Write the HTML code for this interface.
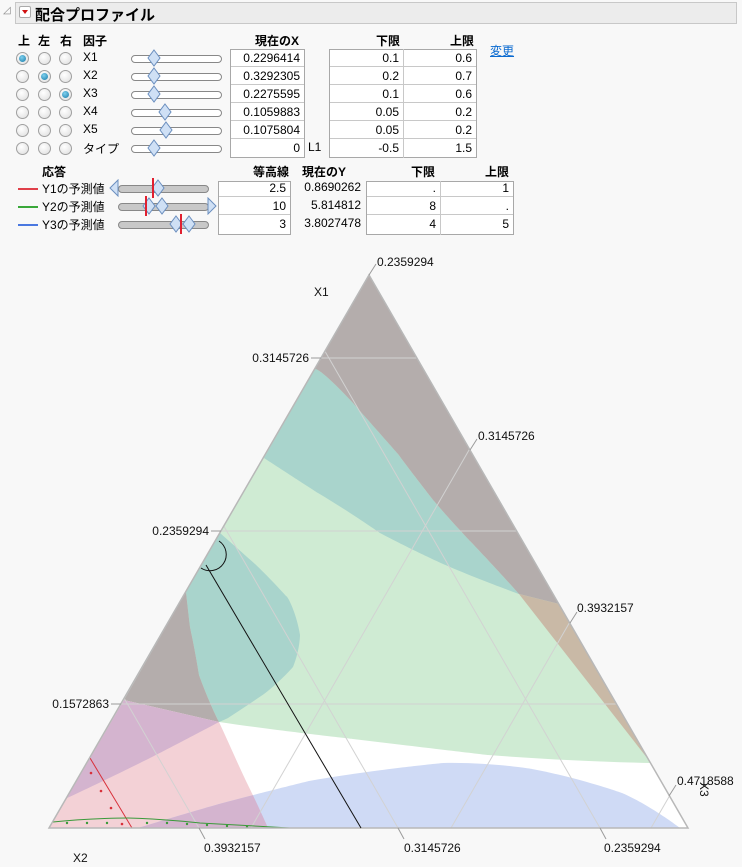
<!DOCTYPE html>
<html><head><meta charset="utf-8">
<style>
body{margin:0;width:742px;height:867px;background:#f8f8f8;font-family:"Liberation Sans","Noto Sans CJK JP",sans-serif;font-size:12px;color:#000;position:relative;overflow:hidden}
.a{position:absolute;white-space:nowrap}
.b{font-weight:bold}
.r{text-align:right}
.box{position:absolute;background:#fff;border:1px solid #a8a8a8;box-sizing:border-box}
.cell{position:absolute;height:18px;line-height:18px;text-align:right;box-sizing:border-box;border-bottom:1px solid #c8c8c8}
.radio{position:absolute;width:11px;height:11px;border-radius:50%;border:1px solid #a0a0a0;background:radial-gradient(circle at 40% 35%,#fff,#ddd)}
.radio.on::after{content:"";position:absolute;left:2px;top:2px;width:7px;height:7px;border-radius:50%;background:radial-gradient(circle at 40% 35%,#7fd0ee,#167aa8)}
.track{position:absolute;height:6px;border:1px solid #888;border-radius:4px;background:#fff}
</style></head><body>
<div class="a" style="left:3px;top:5px;color:#888;font-size:10px">◿</div>
<div style="position:absolute;left:15px;top:2px;width:722px;height:22px;background:#ececec;border:1px solid #c8c8c8;box-sizing:border-box"></div>
<div style="position:absolute;left:19px;top:6px;width:12px;height:12px;background:#fff;border:1px solid #aaa;border-radius:2px;box-sizing:border-box"></div>
<div style="position:absolute;left:22px;top:10px;width:0;height:0;border-left:3px solid transparent;border-right:3px solid transparent;border-top:4px solid #d01010"></div>
<div class="a b" style="left:35px;top:4px;font-size:15px">配合プロファイル</div>

<div class="a b" style="left:18px;top:32px">上</div>
<div class="a b" style="left:38px;top:32px">左</div>
<div class="a b" style="left:60px;top:32px">右</div>
<div class="a b" style="left:83px;top:32px">因子</div>
<div class="a b" style="left:255px;top:32px">現在のX</div>
<div class="a b" style="left:376px;top:32px">下限</div>
<div class="a b" style="left:450px;top:32px">上限</div>
<div class="a" style="left:490px;top:42px;color:#0a6ad0;text-decoration:underline">変更</div>

<div class="box" style="left:230px;top:49px;width:75px;height:109px"></div>
<div class="box" style="left:329px;top:49px;width:148px;height:109px"></div>
<div style="position:absolute;left:403px;top:49px;width:1px;height:109px;background:#c8c8c8"></div>
<div id="rows"></div>

<div class="a b" style="left:42px;top:163px">応答</div>
<div class="a b" style="left:253px;top:163px">等高線</div>
<div class="a b" style="left:302px;top:163px">現在のY</div>
<div class="a b" style="left:411px;top:163px">下限</div>
<div class="a b" style="left:485px;top:163px">上限</div>
<div class="box" style="left:218px;top:181px;width:73px;height:54px"></div>
<div class="box" style="left:366px;top:181px;width:148px;height:54px"></div>
<div style="position:absolute;left:440px;top:181px;width:1px;height:54px;background:#c8c8c8"></div>
<div id="resp"></div>

<svg class="a" style="left:0;top:0" width="742" height="867" viewBox="0 0 742 867">
<defs>
<clipPath id="tri"><polygon points="369,275 49,828 688,828"/></clipPath>
<clipPath id="pk"><path d="M124,700 L49,828 L268,828 C258,805 246,781 246,781 C236,760 228,741 219,722 Z"/></clipPath>
</defs>
<g clip-path="url(#tri)">
<polygon points="369,275 49,828 688,828" fill="#ffffff"/>
<path d="M369,275 L124,700 L219,722 C280,731 353,739 353,739 C420,747 488,755 488,755 C540,759 600,762 651,763 L688,828 L688,275 Z" fill="#cfebd3"/>
<path d="M315,369 L264,458 C290,475 318,493 318,493 C350,512 380,533 380,533 C410,549 443,564 443,564 C480,580 519,594 519,594 C495,567 470,541 470,541 C450,520 434,501 434,501 C415,477 398,454 398,454 C375,428 353,403 353,403 C338,387 320,369 315,369 Z" fill="#a9d4cc"/>
<path d="M369,275 L315,369 C320,369 338,387 353,403 C375,428 398,454 398,454 C415,477 434,501 434,501 C450,520 470,541 470,541 C495,567 519,594 519,594 L559,604 L560,275 Z" fill="#b4adac"/>
<polygon points="519,594 559,604 651,763" fill="#c9b9a6"/>
<path d="M220,533 L186,592 C188,610 190,627 190,627 C195,650 199,675 199,675 C208,700 219,722 219,722 C224,720 228,718 228,718 C245,707 264,694 264,694 C280,682 293,667 293,667 C300,650 300,635 300,635 C297,615 288,596 286,596 C270,578 255,564 255,564 C237,548 220,533 220,533 Z" fill="#a9d4cc"/>
<path d="M186,592 L124,700 L219,722 C208,700 199,675 199,675 C195,650 190,627 190,627 C188,610 186,592 186,592 Z" fill="#b4adac"/>
<path d="M124,700 L49,828 L268,828 C258,805 246,781 246,781 C236,760 228,741 219,722 Z" fill="#f3d1d6"/>
<path d="M124,700 L67,798 C110,778 152,757 152,757 C185,740 219,722 219,722 Z" fill="#d4b4cf"/>
<path d="M138,828 C170,818 219,804 219,804 C260,793 309,781 309,781 C370,770 443,763 443,763 C490,762 532,769 532,769 C580,778 622,793 622,793 C650,805 680,828 680,828 Z" fill="#cfdaf5"/>
<path clip-path="url(#pk)" d="M138,828 C170,818 219,804 219,804 C260,793 309,781 309,781 C370,770 443,763 443,763 L443,828 Z" fill="#d4b4cf"/>
<g stroke="#d2d2d2" stroke-width="1" fill="none">
<line x1="0" y1="358" x2="742" y2="358"/><line x1="0" y1="531" x2="742" y2="531"/><line x1="0" y1="704" x2="742" y2="704"/>
<line x1="199" y1="828" x2="-120" y2="275"/><line x1="398" y1="828" x2="79" y2="275"/><line x1="600" y1="828" x2="281" y2="275"/>
<line x1="251" y1="828" x2="570" y2="275"/><line x1="451" y1="828" x2="770" y2="275"/><line x1="651" y1="828" x2="970" y2="275"/>
</g>
<line x1="90" y1="758" x2="132" y2="828" stroke="#d8303a" stroke-width="1"/>
<g fill="#d8303a"><circle cx="91" cy="773" r="1.3"/><circle cx="101" cy="791" r="1.3"/><circle cx="111" cy="808" r="1.3"/><circle cx="122" cy="824" r="1.3"/></g>
<path d="M53,822 C90,818 128,818 128,818 C165,819 200,823 200,823 C240,825 290,828 290,828" stroke="#3a9a3a" fill="none"/>
<g fill="#3a9a3a"><circle cx="67" cy="823" r="1.2"/><circle cx="87" cy="823" r="1.2"/><circle cx="107" cy="823" r="1.2"/><circle cx="147" cy="823" r="1.2"/><circle cx="167" cy="823" r="1.2"/><circle cx="187" cy="824" r="1.2"/><circle cx="207" cy="825" r="1.2"/><circle cx="227" cy="826" r="1.2"/><circle cx="247" cy="827" r="1.2"/></g>
</g>
<polygon points="369,275 49,828 688,828" fill="none" stroke="#b8b8b8" stroke-width="1.5"/>
<g stroke="#9a9a9a" stroke-width="1">
<line x1="311" y1="358" x2="321" y2="358"/><line x1="211" y1="531" x2="221" y2="531"/><line x1="111" y1="704" x2="121" y2="704"/>
<line x1="369" y1="275" x2="376" y2="264"/><line x1="470" y1="450" x2="477" y2="439"/><line x1="570" y1="623" x2="577" y2="612"/><line x1="669" y1="796" x2="676" y2="785"/>
<line x1="199" y1="828" x2="205" y2="839"/><line x1="398" y1="828" x2="404" y2="839"/><line x1="600" y1="828" x2="606" y2="839"/>
</g>
<line x1="206" y1="565" x2="361" y2="828" stroke="#111" stroke-width="1"/>
<path d="M219,541 A14,14 0 0 1 201,568" stroke="#111" fill="none"/>
<g font-family="Liberation Sans, sans-serif" font-size="12" fill="#111">
<text x="377" y="266">0.2359294</text>
<text x="309" y="362" text-anchor="end">0.3145726</text>
<text x="209" y="535" text-anchor="end">0.2359294</text>
<text x="109" y="708" text-anchor="end">0.1572863</text>
<text x="478" y="440">0.3145726</text>
<text x="577" y="612">0.3932157</text>
<text x="677" y="785">0.4718588</text>
<text x="204" y="852">0.3932157</text>
<text x="404" y="852">0.3145726</text>
<text x="604" y="852">0.2359294</text>
<text x="314" y="296">X1</text>
<text x="73" y="862">X2</text>
<text x="700" y="782" transform="rotate(90 700 782)">X3</text>
</g>
</svg>

<script>
var rows=[["X1",0,"0.2296414","0.1","0.6",154],["X2",1,"0.3292305","0.2","0.7",154],["X3",2,"0.2275595","0.1","0.6",154],["X4",-1,"0.1059883","0.05","0.2",165],["X5",-1,"0.1075804","0.05","0.2",166],["タイプ",-1,"0","-0.5","1.5",154]];
var h="";
rows.forEach(function(r,i){var y=58+i*18;
[22,44,65].forEach(function(x,j){h+='<div class="radio'+(r[1]==j?' on':'')+'" style="left:'+(x-6)+'px;top:'+(y-6)+'px"></div>';});
h+='<div class="a" style="left:83px;top:'+(y-8)+'px">'+r[0]+'</div>';
h+='<div class="track" style="left:131px;top:'+(y-3)+'px;width:89px"></div>';
h+='<svg class="a" style="left:'+(r[5]-7)+'px;top:'+(y-9)+'px" width="14" height="18"><polygon points="7,1 13,9 7,17 1,9" fill="#cfe0f5" stroke="#6b8fbf"/></svg>';
h+='<div class="cell" style="left:231px;top:'+(y-9)+'px;width:73px;padding-right:4px;'+(i==5?'border:none':'')+'">'+r[2]+'</div>';
h+='<div class="cell" style="left:330px;top:'+(y-9)+'px;width:73px;padding-right:4px;'+(i==5?'border:none':'')+'">'+r[3]+'</div>';
h+='<div class="cell" style="left:404px;top:'+(y-9)+'px;width:72px;padding-right:4px;'+(i==5?'border:none':'')+'">'+r[4]+'</div>';
});
h+='<div class="a" style="left:308px;top:140px">L1</div>';
document.getElementById("rows").innerHTML=h;
var rs=[["Y1の予測値","#e0404a","2.5","0.8690262",".","1",152,[158],[113]],["Y2の予測値","#3aa83a","10","5.814812","8",".",145,[149,162],[211]],["Y3の予測値","#4a78e0","3","3.8027478","4","5",180,[176,189],[]]];
var g="";
rs.forEach(function(r,i){var y=188+i*18;
g+='<div style="position:absolute;left:18px;top:'+y+'px;width:20px;height:2px;background:'+r[1]+'"></div>';
g+='<div class="a" style="left:42px;top:'+(y-8)+'px">'+r[0]+'</div>';
g+='<div class="track" style="left:118px;top:'+(y-3)+'px;width:89px;background:#c8c8c8"></div>';
r[7].forEach(function(x){g+='<svg class="a" style="left:'+(x-7)+'px;top:'+(y-9)+'px" width="14" height="18"><polygon points="7,1 13,9 7,17 1,9" fill="#cfe0f5" stroke="#6b8fbf"/></svg>';});
r[8].forEach(function(x){g+='<svg class="a" style="left:'+(x-4)+'px;top:'+(y-9)+'px" width="10" height="18"><polygon points="'+(x<150?'9,1 1,9 9,17':'1,1 9,9 1,17')+'" fill="#cfe0f5" stroke="#6b8fbf"/></svg>';});
g+='<div style="position:absolute;left:'+r[6]+'px;top:'+(y-10)+'px;width:1.5px;height:20px;background:#e02030"></div>';
g+='<div class="cell" style="left:219px;top:'+(y-9)+'px;width:71px;padding-right:4px;'+(i==2?'border:none':'')+'">'+r[2]+'</div>';
g+='<div class="a r" style="left:296px;top:'+(y-8)+'px;width:65px">'+r[3]+'</div>';
g+='<div class="cell" style="left:367px;top:'+(y-9)+'px;width:73px;padding-right:4px;'+(i==2?'border:none':'')+'">'+r[4]+'</div>';
g+='<div class="cell" style="left:441px;top:'+(y-9)+'px;width:72px;padding-right:4px;'+(i==2?'border:none':'')+'">'+r[5]+'</div>';
});
document.getElementById("resp").innerHTML=g;
</script>
</body></html>
